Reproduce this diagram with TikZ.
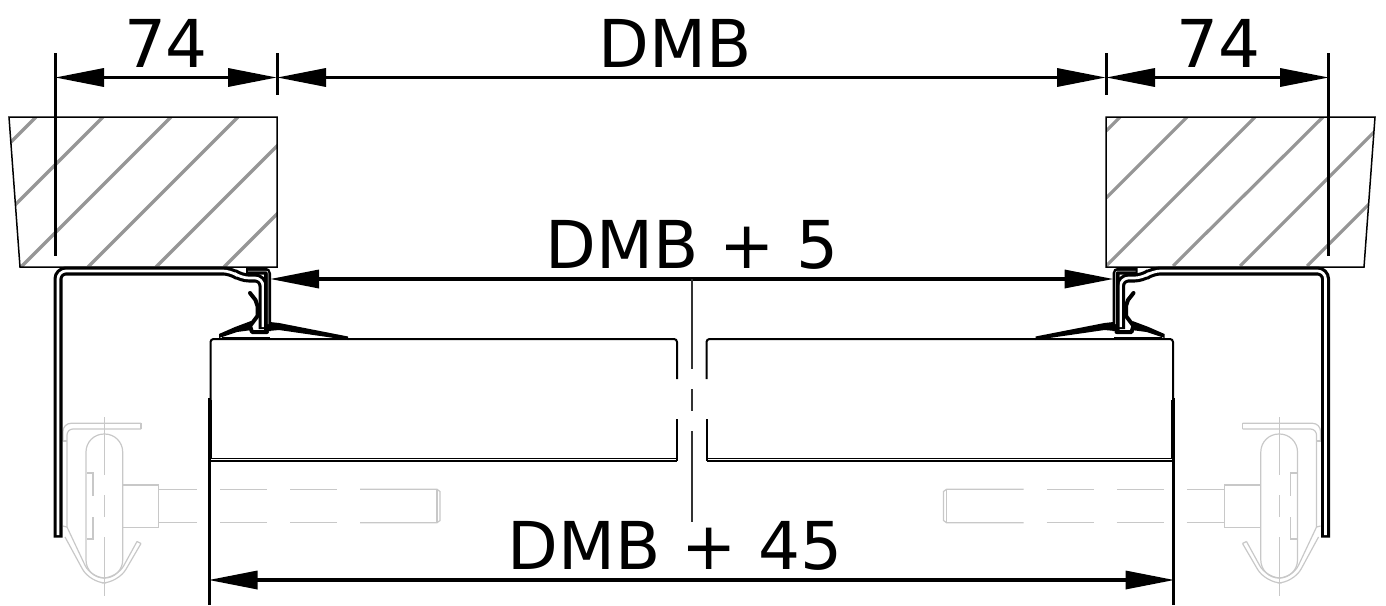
\documentclass[tikz,border=0pt]{standalone}
\usepackage{fontspec}
\setmainfont{DejaVu Sans}
\usetikzlibrary{arrows.meta}

\definecolor{hatchgray}{RGB}{150,150,150}
\definecolor{clipgray}{RGB}{200,200,200}

\tikzset{
  wall/.style={draw=black,line width=1.5pt},
  hatch/.style={draw=hatchgray,line width=3.2pt},
  extline/.style={draw=black,line width=3pt},
  dimline/.style={draw=black,line width=3.4pt,{Triangle[length=49pt,width=18pt]}-{Triangle[length=49pt,width=18pt]}},
  dimtext/.style={anchor=base,font=\fontsize{66pt}{66pt}\selectfont,inner sep=0pt},
  clip part/.style={draw=clipgray,line width=1.2pt},
  boxline/.style={draw=black,line width=2pt},
  axis/.style={draw=black!80,line width=2pt},
}

% everything that repeats on the other side
\newcommand{\sidepart}{
  % hanger and nut, behind the rest
  \begin{scope}[clip part]
    \draw (141,423.3) -- (141,429);
    \draw[rounded corners=8pt] (141,423.3) -- (63,423.3) -- (63,441);
    \draw[rounded corners=6pt] (141,429) -- (67,429) -- (67,527);
    \draw (63,441) -- (67,441);
    \draw (63,526) -- (67,527);
    \draw[rounded corners=16pt] (65,537) -- (90,583) -- (118,583) -- (141,543.5);
    \draw[rounded corners=14pt] (67,527) -- (91,578) -- (117,578) -- (137,541.5);
    \draw (137,541.5) -- (141,543.5);
    \draw[rounded corners=18pt] (86,434) rectangle (122.7,578);
    \draw (122.7,485) rectangle (158.7,527.3);
    \draw (104.3,417) -- (104.3,475);
    \draw (104.3,495) -- (104.3,517);
    \draw (104.3,537) -- (104.3,596);
    \draw (87,473) -- (93,473) -- (93,496);
    \draw (93,517) -- (93,539) -- (87,539);
    \draw (158.7,489.3) -- (197,489.3);
    \draw (220,489.3) -- (267,489.3);
    \draw (290,489.3) -- (337,489.3);
    \draw (360,489.3) -- (437,489.3) -- (440,491.5) -- (440,520.5) -- (437,522.7) -- (360,522.7);
    \draw (337,522.7) -- (290,522.7);
    \draw (267,522.7) -- (220,522.7);
    \draw (197,522.7) -- (158.7,522.7);
    \draw (437,489.3) -- (437,522.7);
  \end{scope}

  % frame profile: black stroke, white core
  \draw[line width=9pt,rounded corners=8pt] (58,537.5) -- (58,271) -- (231,271) -- (241,278) -- (263,278) -- (263,329);
  \draw[white,line width=2.7pt,rounded corners=8pt] (58,535) -- (58,271) -- (231,271) -- (241,278) -- (263,278) -- (263,327);

  % seal
  \draw[line width=7pt,rounded corners=3pt] (246,271) -- (267.5,271) -- (267.5,331);
  \draw[white,line width=.5pt,rounded corners=2pt] (248,271) -- (268,271) -- (268,324);
  \draw[line width=4pt,line cap=round,line join=round] (250,293) -- (255.5,300) -- (257.5,306) -- (257.5,316) -- (250,326) -- (252,332) -- (267,332);
  \fill (270,322) -- (279,323) -- (348,336.5) -- (348,340) -- (279,330) -- (268,331) -- cycle;
  \fill (251,321) -- (235,327) -- (219,334) -- (219,338) -- (237,332) -- (252,330) -- cycle;
  \draw[line width=2.4pt] (222,338) -- (270,338);

  % carrier box
  \draw[boxline,rounded corners=3pt] (210.5,400) -- (210.5,339) -- (677,339) -- (677,379);
  \draw[boxline] (677,419) -- (677,460.5);
  \draw[line width=1.6pt] (211,458.5) -- (677,458.5);
  \draw[line width=1.6pt] (211,461) -- (677,461);
  \draw[line width=2pt] (211.3,400) -- (211.3,459);
}

\begin{document}
\begin{tikzpicture}[x=1pt,y=-1pt]
  \useasboundingbox (0,0) rectangle (1386,605);

  \sidepart
  \begin{scope}[xshift=1383.5pt,xscale=-1]
    \sidepart
  \end{scope}

  % walls
  \begin{scope}
    \clip (9,117) -- (277,117) -- (277,267) -- (20,267) -- cycle;
    \draw[hatch] (10,143) -- (36,117);
    \draw[hatch] (15,205) -- (103,117);
    \draw[hatch] (21,267) -- (171,117);
    \draw[hatch] (88,267) -- (238,117);
    \draw[hatch] (156,267) -- (306,117);
    \draw[hatch] (224,267) -- (374,117);
  \end{scope}
  \begin{scope}
    \clip (1106,117) -- (1375,117) -- (1364,267) -- (1106,267) -- cycle;
    \draw[hatch] (1106,131) -- (1120,117);
    \draw[hatch] (1106,198) -- (1187,117);
    \draw[hatch] (1106,266) -- (1255,117);
    \draw[hatch] (1173,266) -- (1323,117);
    \draw[hatch] (1240,266) -- (1389,117);
    \draw[hatch] (1307,266) -- (1456,117);
  \end{scope}
  \draw[wall] (9,117) -- (277,117) -- (277,267) -- (20,267) -- cycle;
  \draw[wall] (1106,117) -- (1375,117) -- (1364,267) -- (1106,267) -- cycle;

  % free ends of the dimension lines
  \coordinate (wallL) at (55,77.5);
  \coordinate (openL) at (277,77.5);
  \coordinate (openR) at (1106,77.5);
  \coordinate (wallR) at (1329,77.5);
  \coordinate (sealL) at (270,279);
  \coordinate (sealR) at (1113.5,279);
  \coordinate (boxL) at (208.5,580);
  \coordinate (boxR) at (1174.5,580);

  \begin{scope}[every edge/.style={extline}]
    \path (55.5,53) edge (55.5,256);
    \path (277,53) edge (277,95);
    \path (1106,53) edge (1106,95);
    \path (1328,53) edge (1328,256);
    \path (209.5,398) edge (209.5,605);
    \path (1173.5,398) edge (1173.5,605);
  \end{scope}

  \begin{scope}[every edge/.style={dimline}]
    \path (wallL) edge (openL);
    \path (openL) edge (openR);
    \path (openR) edge (wallR);
    \path (sealL) edge (sealR);
    \path (boxL) edge (boxR);
  \end{scope}

  % axis
  \coordinate (axisA) at (691.7,279);
  \coordinate (axisB) at (691.7,369);
  \coordinate (axisC) at (691.7,389);
  \coordinate (axisD) at (691.7,411);
  \coordinate (axisE) at (691.7,431);
  \coordinate (axisF) at (691.7,521.5);
  \path[axis] (axisA) -- (axisB) (axisC) -- (axisD) (axisE) -- (axisF);

  \begin{scope}[every node/.style={dimtext}]
    \node (left)  at (166,67)  {74};
    \node (open)  at (675,67)  {DMB};
    \node (right) at (1218,67) {74};
    \node (seal)  at (692,268) {DMB + 5};
    \node (box)   at (675,569) {DMB + 45};
  \end{scope}

\end{tikzpicture}
\end{document}
